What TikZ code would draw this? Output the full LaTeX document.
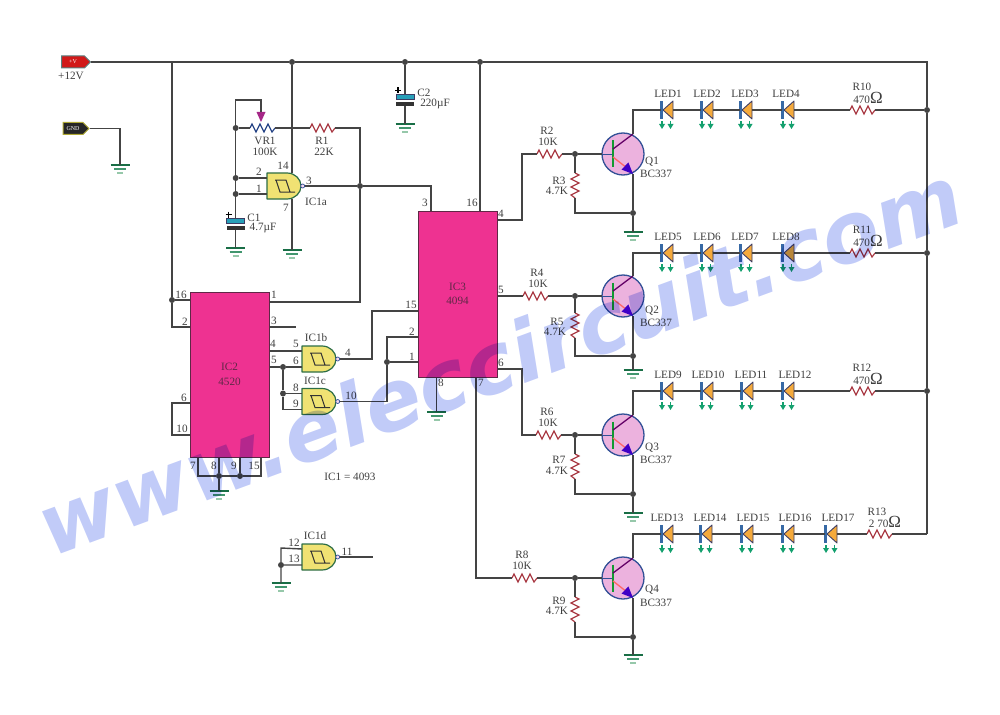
\documentclass[tikz,border=0pt]{standalone}
\usepackage{fontspec}
\setmainfont{Liberation Serif}
\newfontfamily\wmfont{DejaVu Sans}
\usetikzlibrary{shapes.symbols}

\definecolor{wirecol}{RGB}{68,68,68}
\definecolor{txtcol}{RGB}{62,62,62}
\definecolor{chipcol}{RGB}{238,50,145}
\definecolor{chipline}{RGB}{95,40,70}
\definecolor{resred}{RGB}{170,60,70}
\definecolor{resblue}{RGB}{40,70,135}
\definecolor{gatefill}{RGB}{240,226,115}
\definecolor{gateline}{RGB}{45,110,70}
\definecolor{gndA}{RGB}{25,110,70}
\definecolor{gndB}{RGB}{65,150,110}
\definecolor{gndC}{RGB}{150,200,170}
\definecolor{ledfill}{RGB}{245,170,60}
\definecolor{ledbar}{RGB}{55,105,165}
\definecolor{ledline}{RGB}{60,60,100}
\definecolor{ledarrow}{RGB}{20,160,110}
\definecolor{qfill}{RGB}{236,178,222}
\definecolor{qline}{RGB}{50,80,150}
\definecolor{capteal}{RGB}{40,160,185}
\definecolor{wmcol}{RGB}{193,203,248}

\newcommand{\bigohm}{{\fontsize{17}{17}\selectfont Ω}}

\tikzset{
  wire/.style={draw=wirecol, line width=1.4pt},
  dot/.style={circle, fill=wirecol, inner sep=0pt, minimum size=6pt},
  lbl/.style={inner sep=0pt, text=txtcol, font=\fontsize{11.2}{11.2}\selectfont},
  chip/.style={draw=chipline, fill=chipcol, line width=1pt, minimum width=79pt, inner sep=0pt,
    align=center, text=chipline, font=\fontsize{11.2}{14.5}\selectfont},
  tagbox/.style={signal, signal to=east, inner sep=0pt, minimum width=29pt, minimum height=12pt,
    line width=1pt, font=\fontsize{6}{6}\selectfont},
  pics/res/.style={code={
    \draw[#1, line width=1.2pt] (0,0) -- (2,-4) -- (6,4) -- (10,-4) -- (14,4) -- (18,-4) -- (22,4) -- (25,0);
    \coordinate (-a) at (0,0);
    \coordinate (-b) at (25,0);
  }},
  pics/gnd/.style={code={
    \coordinate (-t) at (0,0);
    \draw[gndA, line width=2.2pt] (-9.5,0) -- (9.5,0);
    \draw[gndB, line width=2pt] (-6,4) -- (6,4);
    \draw[gndC, line width=1.6pt] (-3,8) -- (3,8);
  }},
  pics/wiper/.style={code={
    \coordinate (-w) at (0,0);
    \fill[black!20!magenta!75!blue] (-4.5,0) -- (4.5,0) -- (0,10) -- cycle;
  }},
  pics/cap/.style={code={
    \coordinate (-a) at (0,-2.5);
    \coordinate (-b) at (0,9);
    \draw[ledline, fill=capteal, line width=.8pt] (-9,-2.5) rectangle (9,2.5);
    \fill[black!80] (-9,5) rectangle (9,9);
    \draw[black, line width=1.1pt] (-10,-6.5) -- (-4,-6.5) (-7,-9.5) -- (-7,-3.5);
  }},
  pics/led/.style={code={
    \coordinate (-a) at (0,0);
    \coordinate (-b) at (12,0);
    \foreach \ax in {1,9.5} {
      \draw[ledarrow, line width=1.3pt] (\ax,11) -- (\ax,15);
      \fill[ledarrow] (\ax-3,14) -- (\ax+3,14) -- (\ax,19) -- cycle;
    }
    \draw[ledline, fill=ledfill, line width=.9pt, line join=round] (2,0) -- (12,-9) -- (12,9) -- cycle;
    \fill[ledbar] (-1,-9) rectangle (2,9);
  }},
  pics/schmitt/.style={code={
    \coordinate (-i1) at (0,-8);
    \coordinate (-i2) at (0,8);
    \coordinate (-t) at (25,-13);
    \coordinate (-d) at (25,13);
    \coordinate (-o) at (37.5,0);
    \draw[gateline, fill=gatefill, line width=1.2pt, line join=round] (0,-13) -- (20,-13)
      .. controls (28,-13) and (34,-7) .. (34,0) .. controls (34,7) and (28,13) .. (20,13) -- (0,13) -- cycle;
    \draw[black!80, line width=1pt] (8,-6) -- (19,-6) -- (23,6) -- (28,6) (23,6) -- (13,6) -- (9,-6);
    \draw[qline, fill=qfill!50!white, line width=.7pt] (35.7,0) circle (2pt);
  }},
  pics/npn/.style={code={
    \coordinate (-b) at (-21,0);
    \coordinate (-c) at (10,-20);
    \coordinate (-e) at (10,20);
    \draw[qline, fill=qfill, line width=1.3pt] (0,0) circle (21pt);
    \draw[qline, line width=.8pt] (-21,0) -- (-10,0);
    \draw[gndA!70!green, line width=1.5pt] (-10,-13.5) -- (-10,13.5);
    \draw[black!35!red!60!blue, line width=1.3pt] (-10,-5) -- (10,-20);
    \draw[red!60!white, line width=1.3pt] (-10,3) -- (9,18);
    \fill[black!30!blue!75!magenta] (10,20) -- (-1.4,15.6) -- (5.4,8.4) -- cycle;
  }},
}

\begin{document}
\begin{tikzpicture}[x=1pt,y=-1pt]
  \useasboundingbox (0,0) rectangle (1000,714);

  % the two tags
  \node (vcc) at (73,62) [tagbox, draw=gray!70!teal, fill=red!80!black!90!white, text=white] {+V};
  \node (gnd) at (73,128.5) [tagbox, minimum width=26pt, draw=olive!70!white, fill=black!85, text=white] {GND};

  % chips
  \node (ic2) at (229.5,374.5) [chip, minimum height=165pt] {IC2\\4520};
  \node (ic3) at (457.5,294) [chip, minimum height=166pt] {IC3\\4094};

  % gates
  \pic (g1a) at (267,186) {schmitt};
  \pic (g1b) at (302,359) {schmitt};
  \pic (g1c) at (302,401.5) {schmitt};
  \pic (g1d) at (302,557) {schmitt};

  % resistors, caps and grounds of the left part
  \pic (vr1) at (250,128) {res=resblue};
  \pic (vw) at (261,112) {wiper};
  \pic (r1) at (310,128) {res=resred};
  \pic (c1) at (235.7,221) {cap};
  \pic (c2) at (405,97) {cap};
  \foreach \n/\x/\y in {1/120/165, 2/292/250, 3/405/124, 4/235.7/248, 5/219/491, 6/436.5/412, 7/281/583}
    \pic (g\n) at (\x,\y) {gnd};

  % dots
  \foreach \n/\x/\y in {j1/292/62, j2/405/62, j3/480/62, j4/172/300, j5/235.7/128, j6/235.7/178,
      j7/235.7/194, j8/360/186, j9/283/367, j10/283/393.5, j11/387/362, j12/219/476, j13/240/476,
      j14/281/565, jr1/927/110, jr2/927/253, jr3/927/391}
    \node (\n) at (\x,\y) [dot] {};

  % corners of the wires
  \foreach \n/\x/\y in {rtr/927/62, rbr/927/534, t1/172/62, t2/172/327, t3/120/128.5, t4/235.7/100,
      t5/261/100, t6/360/128, t7/360/302, t8/431/186, t9/372/359, t10/372/311, t11/387/401.5,
      t12/387/337, t13/283/409.5, t14/172/403, t15/172/435, t16/198/476, t17/261/476, t18/296/327,
      t19/281/548, t20/373/557, t21/522/220, t22/522/154, t23/522/369, t24/522/435, t25/476/578}
    \coordinate (\n) at (\x,\y);

  % +12V rail and left part
  \draw[wire] (vcc.east) to (t1) to (j1) to (j2) to (j3) to (rtr) to (jr1) to (jr2) to (jr3) to (rbr);
  \draw[wire] (t1) to (j4) to (t2) to (ic2.west |- t2) (j4) to (ic2.west |- j4);
  \draw[wire] (gnd.east) to (t3) to (g1-t);
  \draw[wire] (j1) to (g1a-t) (g1a-d) to (g2-t);
  \draw[wire] (j2) to (c2-a) (c2-b) to (g3-t);
  \draw[wire] (j3) to (ic3.north -| j3);
  \draw[wire] (vw-w) to (t5) to (t4) to (j5) to (j6) to (j7) to (c1-a) (c1-b) to (g4-t);
  \draw[wire] (j5) to (vr1-a) (vr1-b) to (r1-a) (r1-b) to (t6) to (j8) to (t7) to (ic2.east |- t7);
  \draw[wire] (j6) to (g1a-i1) (j7) to (g1a-i2);
  \draw[wire] (g1a-o) to (j8) to (t8) to (ic3.north -| t8);

  % between IC2 and IC3
  \draw[wire] (ic2.east |- t18) to (t18);
  \draw[wire] (ic2.east |- g1b-i1) to (g1b-i1);
  \draw[wire] (ic2.east |- j9) to (j9) to (g1b-i2) (j9) to (j10) to (t13) to (g1c-i2) (j10) to (g1c-i1);
  \draw[wire] (g1b-o) to (t9) to (t10) to (ic3.west |- t10);
  \draw[wire] (g1c-o) to (t11) to (j11) to (t12) to (ic3.west |- t12) (j11) to (ic3.west |- j11);
  \draw[wire] (ic2.west |- t14) to (t14) to (t15) to (ic2.west |- t15);
  \draw[wire] (ic2.south -| t16) to (t16) to (j12) to (j13) to (t17) to (ic2.south -| t17);
  \draw[wire] (ic2.south -| j12) to (j12) to (g5-t) (ic2.south -| j13) to (j13);
  \draw[wire] (ic3.south -| g6-t) to (g6-t);

  % IC1d
  \draw[wire] (g1d-i1) to (t19) to (j14) to (g7-t) (j14) to (g1d-i2);
  \draw[wire] (g1d-o) to (t20);

  % transistor stages
  \foreach \q/\qy/\ry/\ey/\gy/\rbx in {1/154/173/213/232/537, 2/296/313/356/370/523,
      3/435/454/494/513/536, 4/578/597/637/655/512} {
    \pic (q\q) at (623,\qy) {npn};
    \pic (rb\q) at (\rbx,\qy) {res=resred};
    \pic[rotate=-90] (rd\q) at (575,\ry) {res=resred};
    \pic (gq\q) at (633,\gy) {gnd};
    \node (jb\q) at (575,\qy) [dot] {};
    \node (je\q) at (633,\ey) [dot] {};
    \draw[wire] (rb\q-b) to (jb\q) to (q\q-b) (jb\q) to (rd\q-a) (rd\q-b) |- (je\q);
    \draw[wire] (q\q-e) to (je\q) to (gq\q-t);
  }
  \draw[wire] (ic3.east |- t21) to (t21) to (t22) to (rb1-a);
  \draw[wire] (ic3.east |- rb2-a) to (rb2-a);
  \draw[wire] (ic3.east |- t23) to (t23) to (t24) to (rb3-a);
  \draw[wire] (ic3.south -| t25) to (t25) to (rb4-a);

  % LEDs
  \foreach \n/\x/\y/\lx in {1/661/110/668, 2/701/110/707, 3/740/110/745, 4/782/110/786,
      5/661/253/668, 6/701/253/707, 7/740/253/745, 8/782/253/786,
      9/661/391/668, 10/701/391/708, 11/741/391/751, 12/782/391/795,
      13/661/534/667, 14/700/534/710, 15/741/534/753, 16/782/534/795, 17/825/534/838} {
    \pic (led\n) at (\x,\y) {led};
    \node (tled\n) at (\lx,\y-16) [lbl] {LED\n};
  }
  \pic (r10) at (850,110) {res=resred};
  \pic (r11) at (850,253) {res=resred};
  \pic (r12) at (850,391) {res=resred};
  \pic (r13) at (867,534) {res=resred};
  \draw[wire] (q1-c) |- (led1-a) (led1-b) to (led2-a) (led2-b) to (led3-a) (led3-b) to (led4-a)
    (led4-b) to (r10-a) (r10-b) to (jr1);
  \draw[wire] (q2-c) |- (led5-a) (led5-b) to (led6-a) (led6-b) to (led7-a) (led7-b) to (led8-a)
    (led8-b) to (r11-a) (r11-b) to (jr2);
  \draw[wire] (q3-c) |- (led9-a) (led9-b) to (led10-a) (led10-b) to (led11-a) (led11-b) to (led12-a)
    (led12-b) to (r12-a) (r12-b) to (jr3);
  \draw[wire] (q4-c) |- (led13-a) (led13-b) to (led14-a) (led14-b) to (led15-a) (led15-b) to (led16-a)
    (led16-b) to (led17-a) (led17-b) to (r13-a) (r13-b) to (rbr);

  % part names and values
  \foreach \n/\x/\y/\t in {a1/71/76/+12V, a2/265/141/VR1, a3/265/152/100K, a4/322/141/R1, a5/324/152/22K,
      a6/424/93/C2, a7/435/104/220µF, a8/254/218/C1, a9/263/228/4.7µF, a10/316/202/IC1a, a11/316/338/IC1b,
      a12/315/381/IC1c, a13/315/536/IC1d, a14/350/477/IC1 = 4093,
      b1/547/131/R2, b2/548/142/10K, b3/559/181/R3, b4/557/191/4.7K, b5/652/162/Q1, b6/656/174/BC337,
      b7/537/273/R4, b8/538/284/10K, b9/557/322/R5, b10/555/332/4.7K, b11/652/311/Q2, b12/656/323/BC337,
      b13/547/412/R6, b14/548/423/10K, b15/559/460/R7, b16/557/471/4.7K, b17/652/448/Q3, b18/656/460/BC337,
      b19/522/555/R8, b20/522/566/10K, b21/559/601/R9, b22/557/611/4.7K, b23/652/590/Q4, b24/656/603/BC337,
      c1/862/87/R10, c2/868/98/470\bigohm, c3/862/230/R11, c4/868/241/470\bigohm, c5/862/368/R12,
      c6/868/379/470\bigohm, c7/877/512/R13, c8/885/522/2 70\bigohm}
    \node (\n) at (\x,\y) [lbl] {\t};

  % pin numbers
  \foreach \x/\y/\t [count=\i] in {259/172/2, 259/189/1, 283/166/14, 309/181/3, 286/208/7,
      181/295/16, 185/322/2, 184/398/6, 182/429/10, 274/295/1, 274/321/3, 273/344/4, 274/360/5,
      193/466/7, 214/466/8, 234/466/9, 254/466/15,
      296/344/5, 296/361/6, 296/388/8, 296/404/9, 348/353/4, 351/396/10, 294/543/12, 294/559/13, 347/552/11,
      425/203/3, 472/203/16, 501/214/4, 501/290/5, 501/363/6, 481/383/7, 441/383/8, 411/305/15, 412/332/2, 412/357/1}
    \node (pin\i) at (\x,\y) [lbl] {\t};

  % web address over everything
  \begin{scope}[blend mode=multiply]
    \node (web) at (510,389) [anchor=base, rotate=20.2, inner sep=0pt, text=wmcol,
      font=\wmfont\bfseries\itshape\fontsize{84}{84}\selectfont] {www.eleccircuit.com};
  \end{scope}
\end{tikzpicture}
\end{document}
